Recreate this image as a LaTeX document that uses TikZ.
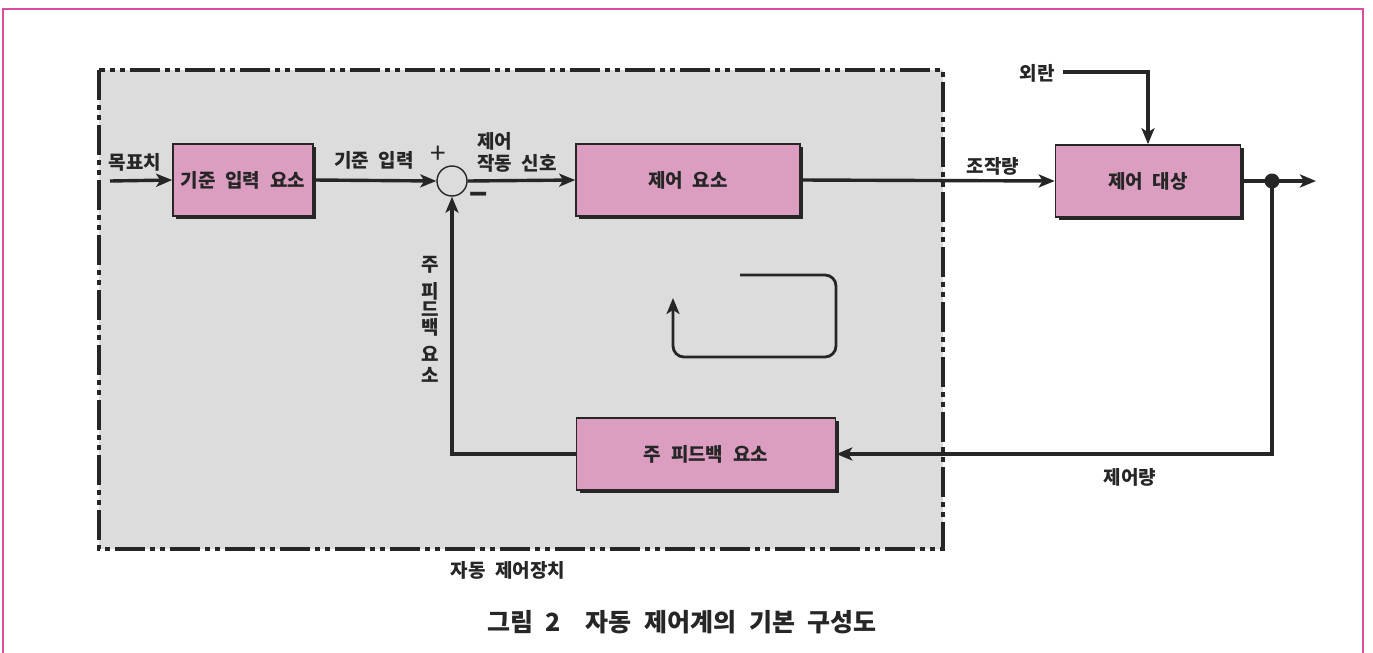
\documentclass[tikz,border=0pt]{standalone}
\usepackage{fontspec}
\setmainfont{Noto Sans CJK KR}[WordSpace=2.2]
\usetikzlibrary{arrows.meta,shadows}
\definecolor{boxpink}{RGB}{219,157,192}
\definecolor{bggray}{RGB}{220,220,220}
\definecolor{ink}{RGB}{38,38,38}
\definecolor{framepink}{RGB}{216,78,160}
\begin{document}
\begin{tikzpicture}[x=1pt,y=-1pt,
  tip/.tip={Stealth[length=16pt,width=13pt,inset=4pt]},
  blk/.style={draw=ink, line width=1.6pt, fill=boxpink, minimum width=#1,
    minimum height=72pt, inner sep=0pt, text=ink,
    font=\bfseries\fontsize{19}{22}\selectfont,
    drop shadow={shadow xshift=3pt, shadow yshift=-3pt, fill=ink, opacity=1}},
  conn/.style={draw=ink, line width=3.4pt},
  lbl/.style={inner sep=0pt, text=ink, font=\bfseries\fontsize{19}{21}\selectfont},
  capt/.style={inner sep=0pt, text=ink, font=\bfseries\fontsize{25}{28}\selectfont},
  dashbox/.style={draw=ink, line width=3.6pt, fill=bggray,
    dash pattern=on 30pt off 5pt on 5pt off 5pt on 5pt off 5pt}
]
\useasboundingbox (0,0) rectangle (1373,653);
\fill[white] (0,0) rectangle (1373,653);
% outer frame
\draw[framepink, line width=2pt] (3,670) -- (3,9) -- (1363,9) -- (1363,670);
% automatic controller area
\draw[dashbox] (99,70) rectangle (943,549);

% blocks
\node[blk=140pt] (ref) at (243,180) {기준 입력 요소};
\node[blk=224pt] (ctl) at (688,180) {제어 요소};
\node[blk=185pt] (plant) at (1148,181) {제어 대상};
\node[blk=259pt] (fb) at (706,454) {주 피드백 요소};
\node[circle, draw=ink, line width=1.4pt, minimum size=30pt, inner sep=0pt] (sum) at (452,181) {};

% coordinates
\coordinate (tgt) at (110,181);
\coordinate (out) at (1316,181);
\coordinate (tap) at (1272,181);
\coordinate (dist) at (1063,72);

% connectors
\draw[conn,-{tip}] (tgt) -- (ref.west);
\draw[conn,-{tip}] (ref.east) -- (sum.west);
\draw[conn,-{tip}] (sum.east) -- (ctl.west);
\draw[conn,-{tip}] (ctl.east) -- (plant.west);
\draw[conn,-{tip}] (plant.east) -- (out);
\draw[conn,-{tip}] (tap) |- (fb.east);
\draw[conn,-{tip}] (fb.west) -| (sum.south);
\draw[conn,-{tip}] (dist) -| (plant.north);
\fill[ink] (tap) circle (7.5pt);

% loop arrow
\draw[conn, line width=2.8pt, rounded corners=11pt, -{tip}]
  (740,275) -- (836,275) -- (836,357) -- (673,357) -- (673,298);

% labels
\node[lbl] at (135,162) {목표치};
\node[lbl] at (374,160) {기준 입력};
\node[inner sep=0pt, text=ink, font=\fontsize{28}{28}\selectfont] at (438,155) {+};
\node[lbl, anchor=west] at (477,141) {제어};
\node[lbl, anchor=west] at (477,163) {작동 신호};
\node[lbl, font=\bfseries\fontsize{30}{30}\selectfont] at (479,199) {−};
\node[lbl] at (993,166) {조작량};
\node[lbl] at (1037,73) {외란};
\node[lbl] at (1130,477) {제어량};
\node[lbl, align=center] at (430,319) {주\\[6pt]피\\[-3pt]드\\[-3pt]백\\[6pt]요\\소};
\node[lbl] at (508,570) {자동 제어장치};
\node[capt] at (682,622) {그림 2\hspace{12pt} 자동 제어계의 기본 구성도};
\end{tikzpicture}
\end{document}
